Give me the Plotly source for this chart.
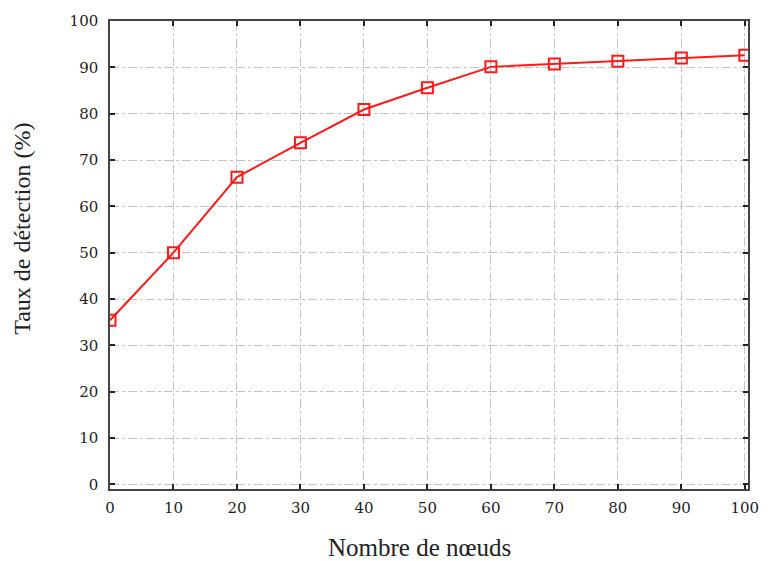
import plotly.graph_objects as go

# Number of nodes vs detection rate
nodes = [0, 10, 20, 30, 40, 50, 60, 70, 80, 90, 100]
detection_rate = [35.4, 50.0, 66.3, 73.7, 80.9, 85.6, 90.1, 90.7, 91.3, 92.0, 92.6]
x_ticks = [0, 10, 20, 30, 40, 50, 60, 70, 80, 90, 100]
y_ticks = [0, 10, 20, 30, 40, 50, 60, 70, 80, 90, 100]

title_font = "Liberation Serif, Times New Roman, serif"
tick_font = "DejaVu Serif, serif"

fig = go.Figure()
fig.add_trace(go.Scatter(
    x=nodes, y=detection_rate, mode="lines+markers",
    line=dict(color="#ff1a1a", width=2),
    marker=dict(symbol="square-open", size=11, color="#ff1a1a", line=dict(width=2)),
    showlegend=False,
))

axis_common = dict(
    showline=True, linecolor="#444", linewidth=1.5, mirror="ticks",
    ticks="inside", ticklen=5, tickcolor="#222", tickwidth=1.5,
    showgrid=True, gridcolor="#c4c4c4", griddash="dashdot", gridwidth=1,
    zeroline=False,
    tickfont=dict(family=tick_font, size=15, color="#222"),
)

fig.update_xaxes(range=[0, 100.5], tickvals=x_ticks, ticklabelstandoff=4, **axis_common)
fig.update_yaxes(range=[-1, 100], tickvals=y_ticks, ticklabelstandoff=7, **axis_common)

# Axis titles
fig.add_annotation(
    text="Nombre de nœuds", xref="paper", yref="paper", x=0.485, y=-0.125,
    xanchor="center", yanchor="middle", showarrow=False,
    font=dict(family=title_font, size=25, color="#222"),
)
fig.add_annotation(
    text="Taux de détection (%)", xref="paper", yref="paper", x=-0.137, y=0.555,
    xanchor="center", yanchor="middle", showarrow=False, textangle=-90,
    font=dict(family=title_font, size=24, color="#222"),
)

fig.update_layout(
    width=771, height=561,
    margin=dict(l=110, r=17, t=16, b=72),
    plot_bgcolor="white", paper_bgcolor="white",
)

fig.write_html("out.html")
